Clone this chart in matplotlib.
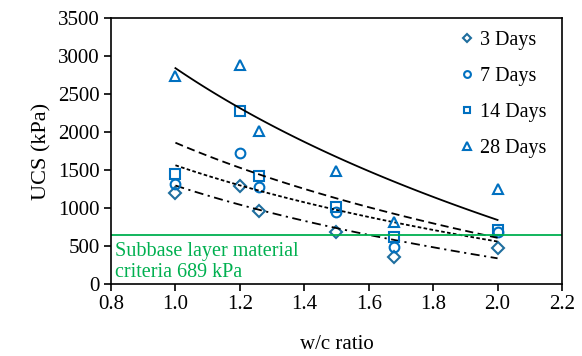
import numpy as np
import matplotlib
matplotlib.use('Agg')
import matplotlib.pyplot as plt

wc = [1.0, 1.2, 1.26, 1.5, 1.68, 2.0]
ucs_3 = [1200, 1290, 960, 690, 360, 470]
ucs_7 = [1310, 1720, 1280, 950, 485, 690]
ucs_14 = [1445, 2275, 1425, 1015, 620, 710]
ucs_28 = [2740, 2880, 2015, 1485, 820, 1250]
criteria = 645

plt.rcParams['font.family'] = ['Liberation Serif', 'DejaVu Serif']
plt.rcParams['font.size'] = 14


def main():
    fig = plt.figure(figsize=(5.82, 3.56), dpi=100)
    ax = fig.add_axes([0.1907, 0.2022, 0.7749, 0.7472])

    series = [
        (ucs_3, 'D', '#1F6E9E', 6, '3 Days', (0, (5, 2.5, 1.2, 2.5))),
        (ucs_7, 'o', '#0070C0', 7, '7 Days', (0, (2, 1.3))),
        (ucs_14, 's', '#0070C0', 7, '14 Days', (0, (4.5, 2.5))),
        (ucs_28, '^', '#0070C0', 7.5, '28 Days', '-'),
    ]
    x = np.array(wc)
    xs = np.linspace(x.min(), x.max(), 100)
    for y, m, c, ms, lab, ls in series:
        ax.plot(x, y, linestyle='none', marker=m, markersize=ms, mfc='none',
                mec=c, mew=1.5, label=lab)
        # logarithmic trend line
        b, a = np.polyfit(np.log(x), np.array(y), 1)
        ax.plot(xs, a + b * np.log(xs), color='black', lw=1.3, linestyle=ls)

    ax.axhline(criteria, color='#00B050', lw=1.3)
    ax.text(0.812, 290, 'Subbase layer material\ncriteria 689 kPa', color='#00B050',
            fontsize=14.5, va='center', ha='left', linespacing=1.2)

    ax.set_xlim(0.8, 2.2)
    ax.set_ylim(0, 3500)
    ax.set_xticks(np.arange(0.8, 2.21, 0.2))
    ax.set_xticklabels(['0.8', '1.0', '1.2', '1.4', '1.6', '1.8', '2.0', '2.2'])
    ax.set_yticks(np.arange(0, 3501, 500))
    ax.tick_params(direction='out', length=5, width=1.2, labelsize=15, pad=3)
    for s in ax.spines.values():
        s.set_linewidth(1.2)
    ax.set_xlabel('w/c ratio', fontsize=15, labelpad=15)
    ax.set_ylabel('UCS (kPa)', fontsize=16, labelpad=5)

    ax.legend(loc='upper right', bbox_to_anchor=(0.987, 0.989), frameon=False,
              handlelength=0.5, handletextpad=0.35, labelspacing=0.84,
              markerscale=0.7, borderaxespad=0.2, borderpad=0.3, fontsize=14.5)

    fig.savefig('out.png', dpi=100)


if __name__ == '__main__':
    main()
